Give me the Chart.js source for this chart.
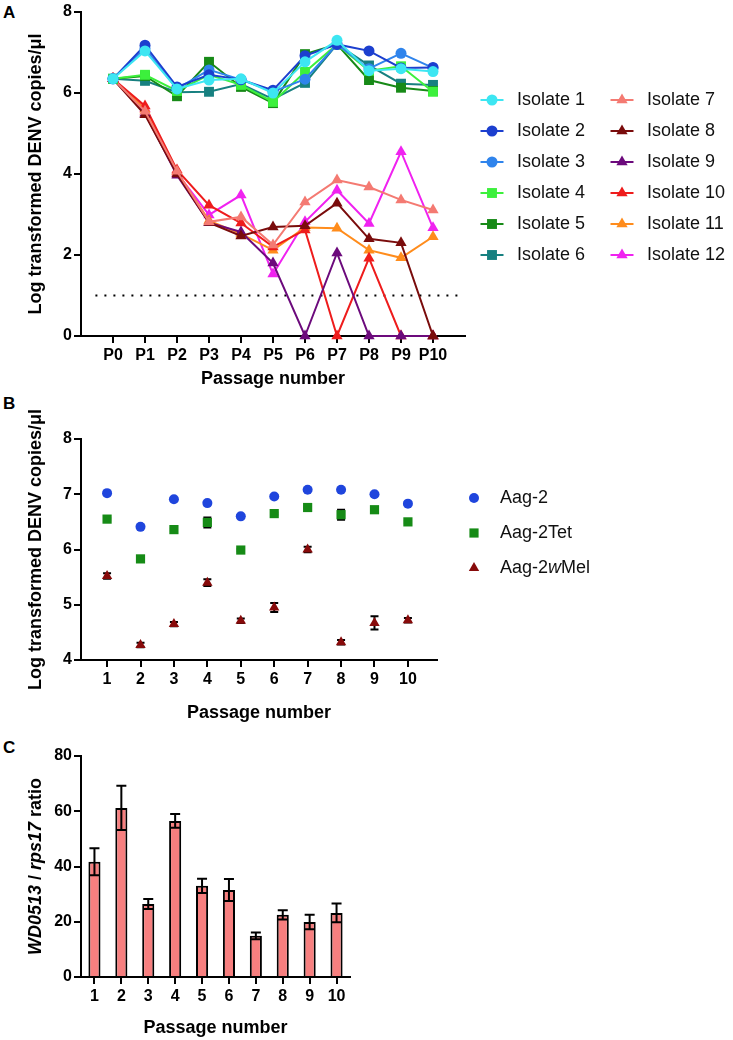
<!DOCTYPE html>
<html>
<head>
<meta charset="utf-8">
<script src="https://cdn.jsdelivr.net/npm/chart.js@4.4.1/dist/chart.umd.min.js"></script>
<style>
  body { margin: 0; background: #fff; }
  #page { position: relative; width: 733px; height: 1040px; overflow: hidden; font-family: "Liberation Sans", Arial, sans-serif; }
  #page canvas { position: absolute; left: 0; }
  .panel { position: absolute; left: 3px; font-size: 17px; font-weight: bold; line-height: 20px; }
</style>
</head>
<body>
<div id="page">
  <div class="panel" style="top:3px">A</div>
  <div class="panel" style="top:394px">B</div>
  <div class="panel" style="top:738px">C</div>
  <canvas id="chartA" width="733" height="395" style="top:0"></canvas>
  <canvas id="chartB" width="733" height="335" style="top:395px"></canvas>
  <canvas id="chartC" width="733" height="310" style="top:730px"></canvas>
</div>
<script>
const FONT = '"Liberation Sans", Arial, sans-serif';

// ---- panel A: DENV in serial passage, 12 isolates
const passagesA = ['P0', 'P1', 'P2', 'P3', 'P4', 'P5', 'P6', 'P7', 'P8', 'P9', 'P10'];
const ticksA = [0, 2, 4, 6, 8];
const isolateNames = ['Isolate 1', 'Isolate 2', 'Isolate 3', 'Isolate 4', 'Isolate 5', 'Isolate 6',
                      'Isolate 7', 'Isolate 8', 'Isolate 9', 'Isolate 10', 'Isolate 11', 'Isolate 12'];
const isolate1  = [6.35, 7.04, 6.10, 6.32, 6.35, 6.00, 6.77, 7.30, 6.55, 6.60, 6.53];
const isolate2  = [6.35, 7.18, 6.15, 6.45, 6.33, 6.07, 6.92, 7.20, 7.04, 6.62, 6.63];
const isolate3  = [6.35, 7.10, 6.10, 6.57, 6.33, 6.03, 6.34, 7.20, 6.60, 6.98, 6.62];
const isolate4  = [6.35, 6.45, 6.05, 6.45, 6.20, 5.78, 6.52, 7.20, 6.55, 6.66, 6.03];
const isolate5  = [6.35, 6.42, 5.92, 6.77, 6.15, 5.75, 6.96, 7.20, 6.32, 6.13, 6.05];
const isolate6  = [6.35, 6.30, 6.02, 6.03, 6.22, 5.85, 6.25, 7.20, 6.68, 6.23, 6.20];
const isolate7  = [6.35, 5.55, 4.07, 2.82, 2.94, 2.25, 3.31, 3.85, 3.68, 3.36, 3.11];
const isolate8  = [6.35, 5.46, 4.00, 2.80, 2.47, 2.69, 2.72, 3.28, 2.40, 2.30, 0];
const isolate9  = [6.35, 5.50, 3.97, 2.80, 2.57, 1.80, 0, 2.05, 0, 0, 0];
const isolate10 = [6.35, 5.68, 4.10, 3.23, 2.79, 2.20, 2.62, 0, 1.92, 0, 0];
const isolate11 = [6.35, 5.60, 4.05, 2.85, 2.52, 2.12, 2.68, 2.66, 2.12, 1.93, 2.45];
const isolate12 = [6.35, 5.62, 4.02, 2.99, 3.48, 1.53, 2.82, 3.60, 2.78, 4.55, 2.67];
const detectionLimit = 1;
const limitSpan = [-0.55, 10.85];

const isolateSeries = [isolate1, isolate2, isolate3, isolate4, isolate5, isolate6,
                       isolate7, isolate8, isolate9, isolate10, isolate11, isolate12];
const isolateColors = ['#3de6f2', '#1c3fcf', '#2f84ec', '#3cf03c', '#178a17', '#178080',
                       '#f47a72', '#7a0c0c', '#6c0a7c', '#ee1c1c', '#ff8c1c', '#f022f0'];
const isolateShapes = ['circle', 'circle', 'circle', 'rect', 'rect', 'rect',
                       'triangle', 'triangle', 'triangle', 'triangle', 'triangle', 'triangle'];
const shapeRadiusA = { circle: 5.5, rect: 7, triangle: 6.5 };

// ---- panel B: DENV in Aag-2 cell lines
const passagesB = [1, 2, 3, 4, 5, 6, 7, 8, 9, 10];
const ticksB = [4, 5, 6, 7, 8];
const cellLines = ['Aag-2', 'Aag-2Tet', 'Aag-2wMel'];
const aag2        = [7.02, 6.41, 6.91, 6.84, 6.60, 6.96, 7.08, 7.08, 7.00, 6.83];
const aag2Err     = [0.02, 0.02, 0.02, 0.02, 0.02, 0.02, 0.02, 0.02, 0.02, 0.02];
const aag2Tet     = [6.55, 5.83, 6.36, 6.49, 5.99, 6.65, 6.76, 6.63, 6.72, 6.50];
const aag2TetErr  = [0.02, 0.02, 0.02, 0.09, 0.02, 0.02, 0.02, 0.09, 0.02, 0.02];
const aag2wMel    = [5.52, 4.27, 4.65, 5.40, 4.71, 4.95, 6.00, 4.32, 4.67, 4.72];
const aag2wMelErr = [0.05, 0.04, 0.04, 0.06, 0.04, 0.08, 0.05, 0.04, 0.12, 0.04];
const cellColors = ['#1f45dd', '#168b16', '#870a0a'];
const cellShapes = ['circle', 'rect', 'triangle'];
const shapeRadiusB = { circle: 5, rect: 6.5, triangle: 6 };

// ---- panel C: Wolbachia density
const passagesC = ['1', '2', '3', '4', '5', '6', '7', '8', '9', '10'];
const ticksC = [0, 20, 40, 60, 80];
const wdRatio    = [41.7, 61.2, 26.4, 56.5, 33.0, 31.5, 14.9, 22.5, 19.9, 23.2];
const wdRatioErr = [4.9, 8.0, 1.8, 2.5, 2.6, 4.0, 1.2, 1.7, 2.6, 3.4];

// rich text with italic pieces, parts = [[text, italic], ...]
function drawRich(ctx, parts, x, y, size, weight, align) {
  const fontFor = it => (it ? 'italic ' : '') + weight + ' ' + size + 'px ' + FONT;
  let total = 0;
  parts.forEach(p => { ctx.font = fontFor(p[1]); total += ctx.measureText(p[0]).width; });
  let cx = align === 'center' ? x - total / 2 : x;
  ctx.textAlign = 'left';
  ctx.textBaseline = 'middle';
  parts.forEach(p => {
    ctx.font = fontFor(p[1]);
    ctx.fillText(p[0], cx, y);
    cx += ctx.measureText(p[0]).width;
  });
}
function italicW(label) {
  return label.split(/(w)(?=Mel)/).filter(s => s).map(s => [s, s === 'w']);
}

const sideLegend = {
  id: 'sideLegend',
  afterDraw(chart, args, o) {
    const ctx = chart.ctx;
    chart.data.datasets.forEach((ds, i) => {
      if (ds.inLegend === false) return;
      const col = Math.floor(i / o.perCol), row = i % o.perCol;
      const x = o.x + col * o.colGap, y = o.y + row * o.rowGap;
      ctx.save();
      if (o.line) {
        ctx.strokeStyle = ds.borderColor;
        ctx.lineWidth = 2;
        ctx.beginPath();
        ctx.moveTo(x - o.line, y);
        ctx.lineTo(x + o.line, y);
        ctx.stroke();
      }
      ctx.fillStyle = ds.pointBackgroundColor;
      ctx.strokeStyle = ds.pointBorderColor;
      Chart.helpers.drawPoint(ctx, { pointStyle: ds.pointStyle, radius: ds.pointRadius, rotation: 0, borderWidth: 0 }, x, y);
      ctx.fillStyle = '#111';
      drawRich(ctx, italicW(ds.label), x + o.textDx, y, 18, 'normal', 'left');
      ctx.restore();
    });
  }
};

const errorBars = {
  id: 'errorBars',
  beforeDatasetsDraw(chart, args, o) { if (o.behind) this.draw(chart, o); },
  afterDatasetsDraw(chart, args, o) { if (!o.behind) this.draw(chart, o); },
  draw(chart, o) {
    const ctx = chart.ctx, ys = chart.scales.y;
    chart.data.datasets.forEach((ds, i) => {
      if (!ds.errors) return;
      chart.getDatasetMeta(i).data.forEach((el, j) => {
        const raw = ds.data[j];
        const v = typeof raw === 'object' ? raw.y : raw;
        const top = ys.getPixelForValue(v + ds.errors[j]);
        const bot = ys.getPixelForValue(v - ds.errors[j]);
        ctx.save();
        ctx.strokeStyle = '#000';
        ctx.lineWidth = 2;
        ctx.beginPath();
        ctx.moveTo(el.x, top); ctx.lineTo(el.x, bot);
        ctx.moveTo(el.x - o.cap, top); ctx.lineTo(el.x + o.cap, top);
        ctx.moveTo(el.x - o.cap, bot); ctx.lineTo(el.x + o.cap, bot);
        ctx.stroke();
        ctx.restore();
      });
    });
  }
};

const ratioTitle = {
  id: 'ratioTitle',
  afterDraw(chart, args, o) {
    const ctx = chart.ctx, a = chart.chartArea;
    ctx.save();
    ctx.translate(o.x, (a.top + a.bottom) / 2);
    ctx.rotate(-Math.PI / 2);
    ctx.fillStyle = '#000';
    drawRich(ctx, [['WD0513', true], [' / ', false], ['rps17', true], [' ratio', false]], 0, 0, 18, 'bold', 'center');
    ctx.restore();
  }
};

function axis(o) {
  return {
    type: o.type || 'linear',
    min: o.min,
    max: o.max,
    offset: o.offset || false,
    afterFit: o.fit,
    afterBuildTicks: o.ticks ? (s => { s.ticks = o.ticks.map(v => ({ value: v })); }) : undefined,
    border: { color: '#000', width: 2 },
    grid: { drawOnChartArea: false, offset: false, color: '#000', lineWidth: 2, tickLength: 7 },
    ticks: {
      color: '#000', padding: o.pad, maxRotation: 0, autoSkip: false,
      font: { family: FONT, size: 16, weight: 'bold' },
      callback: o.label || (function (v) { return this.getLabelForValue(v); })
    },
    title: o.title ? {
      display: true, text: o.title, color: '#000',
      font: { family: FONT, size: 18, weight: 'bold' }, padding: o.titlePad
    } : { display: false }
  };
}

const base = { responsive: false, animation: false, devicePixelRatio: 1, events: [] };

// panel A
new Chart(document.getElementById('chartA'), {
  type: 'line',
  data: {
    datasets: isolateSeries.map((vals, i) => ({
      label: isolateNames[i],
      data: vals.map((v, j) => ({ x: j, y: v })),
      borderColor: isolateColors[i],
      backgroundColor: isolateColors[i],
      pointBackgroundColor: isolateColors[i],
      pointBorderColor: isolateColors[i],
      pointStyle: isolateShapes[i],
      pointRadius: shapeRadiusA[isolateShapes[i]],
      pointBorderWidth: 0,
      borderWidth: 2,
      tension: 0,
      clip: false
    })).concat([{
      label: 'limit',
      inLegend: false,
      data: limitSpan.map(x => ({ x: x, y: detectionLimit })),
      borderColor: '#000',
      borderWidth: 2,
      borderDash: [2, 7],
      pointRadius: 0,
      clip: false
    }])
  },
  options: Object.assign({}, base, {
    layout: { padding: { left: 0, top: 12, right: 268, bottom: 0 } },
    plugins: {
      legend: { display: false }, tooltip: { enabled: false },
      sideLegend: { x: 492, y: 100, rowGap: 31, colGap: 130, perCol: 6, line: 11.5, textDx: 25 }
    },
    scales: {
      x: axis({ min: -1, max: 11, ticks: passagesA.map((p, i) => i), label: v => passagesA[v],
                pad: 3, fit: s => { s.height = 59; }, title: 'Passage number', titlePad: { top: 0, bottom: 5 } }),
      y: axis({ min: 0, max: 8, ticks: ticksA, label: v => v, pad: 2, fit: s => { s.width = 81; },
                title: 'Log transformed DENV copies/\u03bcl', titlePad: { top: 25, bottom: 0 } })
    }
  }),
  plugins: [sideLegend]
});

// panel B
const seriesB = [aag2, aag2Tet, aag2wMel];
const errorsB = [aag2Err, aag2TetErr, aag2wMelErr];
new Chart(document.getElementById('chartB'), {
  type: 'scatter',
  data: {
    datasets: seriesB.map((vals, i) => ({
      label: cellLines[i],
      data: vals.map((v, j) => ({ x: passagesB[j], y: v })),
      errors: errorsB[i],
      backgroundColor: cellColors[i],
      borderColor: cellColors[i],
      pointBackgroundColor: cellColors[i],
      pointBorderColor: cellColors[i],
      pointStyle: cellShapes[i],
      pointRadius: shapeRadiusB[cellShapes[i]],
      pointBorderWidth: 0,
      clip: false
    }))
  },
  options: Object.assign({}, base, {
    layout: { padding: { left: 0, top: 44, right: 296, bottom: 0 } },
    plugins: {
      legend: { display: false }, tooltip: { enabled: false },
      errorBars: { behind: true, cap: 4 },
      sideLegend: { x: 474, y: 498 - 395, rowGap: 35, colGap: 0, perCol: 3, line: 0, textDx: 26 }
    },
    scales: {
      x: axis({ min: 0.22, max: 10.87, ticks: passagesB, label: v => v, pad: 3,
                fit: s => { s.height = 70; }, title: 'Passage number', titlePad: { top: 0, bottom: 6.5 } }),
      y: axis({ min: 4, max: 8, ticks: ticksB, label: v => v, pad: 2, fit: s => { s.width = 81; },
                title: 'Log transformed DENV copies/\u03bcl', titlePad: { top: 25, bottom: 0 } })
    }
  }),
  plugins: [errorBars, sideLegend]
});

// panel C
new Chart(document.getElementById('chartC'), {
  type: 'bar',
  data: {
    labels: passagesC,
    datasets: [{
      label: 'WD0513 / rps17',
      data: wdRatio,
      errors: wdRatioErr,
      backgroundColor: '#f77f7f',
      borderColor: '#000',
      borderWidth: 2,
      borderSkipped: 'bottom',
      categoryPercentage: 1,
      barPercentage: 0.45
    }]
  },
  options: Object.assign({}, base, {
    layout: { padding: { left: 0, top: 26, right: 383, bottom: 0 } },
    plugins: {
      legend: { display: false }, tooltip: { enabled: false },
      errorBars: { behind: false, cap: 5 },
      ratioTitle: { x: 36 }
    },
    scales: {
      x: axis({ type: 'category', offset: true, pad: 3, fit: s => { s.height = 63; },
                title: 'Passage number', titlePad: { top: 0, bottom: 1.5 } }),
      y: axis({ min: 0, max: 80, ticks: ticksC, label: v => v, pad: 2, fit: s => { s.width = 81; } })
    }
  }),
  plugins: [errorBars, ratioTitle]
});
</script>
</body>
</html>
